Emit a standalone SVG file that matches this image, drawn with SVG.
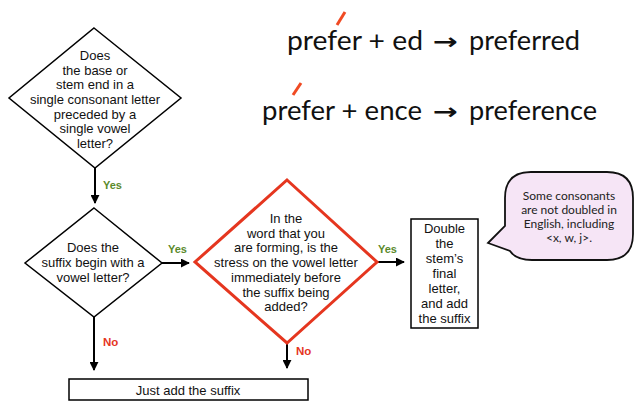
<svg xmlns="http://www.w3.org/2000/svg" width="638" height="402" viewBox="0 0 638 402">
<defs>
<style>
.shape{fill:#fff;stroke:#000;stroke-width:1.5}
.red{fill:#fff;stroke:#e5361f;stroke-width:3}
.t{font-family:"Liberation Sans",Arial,sans-serif;font-size:13px;fill:#111;text-anchor:middle}
.yes{font-family:"Liberation Sans",Arial,sans-serif;font-size:11px;font-weight:bold;fill:#5b8a2c}
.no{font-family:"Liberation Sans",Arial,sans-serif;font-size:11.5px;font-weight:bold;fill:#e5361f}
.big{font-family:Lato,"Open Sans",sans-serif;font-size:26px;fill:#111}
.arr{font-family:"DejaVu Sans",sans-serif;font-size:22px;font-weight:bold;fill:#111}
.bub{font-family:Lato,"Open Sans",sans-serif;font-size:12px;fill:#222;text-anchor:middle}
.conn{stroke:#000;stroke-width:2;fill:none;marker-end:url(#ah)}
.stress{stroke:#f04a23;stroke-width:3;stroke-linecap:butt}
</style>
<marker id="ah" viewBox="0 0 10 10" refX="9" refY="5" markerWidth="4.5" markerHeight="4.5" orient="auto" markerUnits="strokeWidth">
<path d="M0,0 L10,5 L0,10 Z" fill="#000"/>
</marker>
</defs>
<rect width="638" height="402" fill="#fff"/>

<g id="examples">
<line class="stress" x1="337" y1="25" x2="345" y2="12"/>
<text class="big" x="287" y="50" textLength="136" lengthAdjust="spacingAndGlyphs">prefer + ed</text>
<text class="arr" x="433" y="49" textLength="25" lengthAdjust="spacingAndGlyphs">→</text>
<text class="big" x="469" y="50" textLength="111" lengthAdjust="spacingAndGlyphs">preferred</text>
<line class="stress" x1="293" y1="95" x2="301" y2="83"/>
<text class="big" x="262" y="120" textLength="160" lengthAdjust="spacingAndGlyphs">prefer + ence</text>
<text class="arr" x="433" y="119" textLength="25" lengthAdjust="spacingAndGlyphs">→</text>
<text class="big" x="469" y="120" textLength="128" lengthAdjust="spacingAndGlyphs">preference</text>
</g>

<g id="connectors">
<line class="conn" x1="95" y1="168" x2="95" y2="203"/>
<line class="conn" x1="162" y1="263" x2="189" y2="263"/>
<line class="conn" x1="377" y1="262" x2="404" y2="262"/>
<line class="conn" x1="94" y1="317" x2="94" y2="370"/>
<line class="conn" x1="287" y1="343" x2="287" y2="368"/>
<text class="yes" x="103" y="189">Yes</text>
<text class="yes" x="168" y="253">Yes</text>
<text class="yes" x="378" y="253">Yes</text>
<text class="no" x="103" y="346">No</text>
<text class="no" x="296" y="355">No</text>
</g>

<g id="q1">
<polygon class="shape" points="94,28 181,98 95,168 9,98"/>
<text class="t" x="95" y="60">Does</text>
<text class="t" x="95" y="75">the base or</text>
<text class="t" x="95" y="89">stem end in a</text>
<text class="t" x="95" y="104">single consonant letter</text>
<text class="t" x="95" y="119">preceded by a</text>
<text class="t" x="95" y="133">single vowel</text>
<text class="t" x="95" y="148">letter?</text>
</g>

<g id="q2">
<polygon class="shape" points="94,208 162,263 94,317 25,263"/>
<text class="t" x="93" y="252">Does the</text>
<text class="t" x="93" y="267">suffix begin with a</text>
<text class="t" x="93" y="282">vowel letter?</text>
</g>

<g id="q3">
<polygon class="red" points="287,180 377,262 287,343 195,262"/>
<text class="t" x="286" y="223">In the</text>
<text class="t" x="286" y="238">word that you</text>
<text class="t" x="286" y="252">are forming, is the</text>
<text class="t" x="286" y="267">stress on the vowel letter</text>
<text class="t" x="286" y="282">immediately before</text>
<text class="t" x="286" y="297">the suffix being</text>
<text class="t" x="286" y="311">added?</text>
</g>

<g id="double">
<rect class="shape" x="411" y="219" width="67" height="109"/>
<text class="t" x="444.5" y="233">Double</text>
<text class="t" x="444.5" y="248">the</text>
<text class="t" x="444.5" y="263">stem’s</text>
<text class="t" x="444.5" y="278">final</text>
<text class="t" x="444.5" y="293">letter,</text>
<text class="t" x="444.5" y="308">and add</text>
<text class="t" x="444.5" y="323">the suffix</text>
</g>

<g id="justadd">
<rect class="shape" x="69" y="379" width="239" height="21"/>
<text class="t" x="188" y="395">Just add the suffix</text>
</g>

<g id="note">
<path d="M531,172 H607 Q633,172 633,198 V234 Q633,260 607,260 H532 Q516,260 510,251 L488,243 L505,226 V198 Q505,172 531,172 Z" fill="#f6e5f6" stroke="#111" stroke-width="1.8"/>
<text class="bub" x="569" y="200">Some consonants</text>
<text class="bub" x="569" y="214">are not doubled in</text>
<text class="bub" x="569" y="228">English, including</text>
<text class="bub" x="569" y="242">&lt;x, w, j&gt;.</text>
</g>
</svg>
